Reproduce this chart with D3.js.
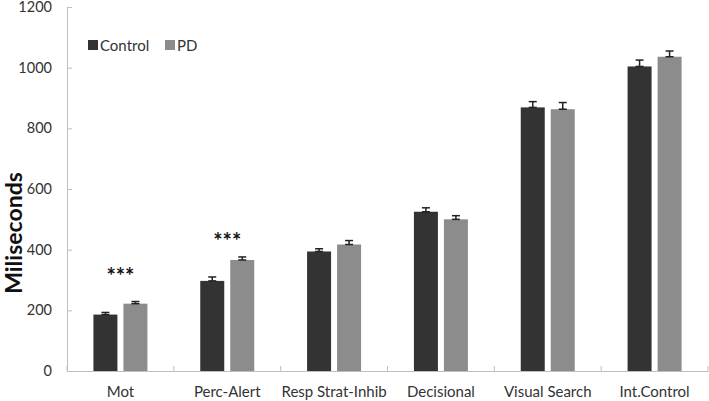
<!DOCTYPE html>
<html><head><meta charset="utf-8">
<script src="https://cdn.jsdelivr.net/npm/d3@7"></script>
<style>body{margin:0;background:#fff}svg{display:block}text{font-family:Lato,"Open Sans",sans-serif}</style>
</head><body>
<script>
const categories = ["Mot","Perc-Alert","Resp Strat-Inhib","Decisional","Visual Search","Int.Control"];
const seriesNames = ["Control","PD"];
const controlValues = [186, 297, 394, 525, 869, 1004];
const pdValues = [222, 366, 417, 500, 863, 1036];
const controlErr = [7, 13, 9, 13, 19, 21];
const pdErr = [7, 10, 13, 12, 22, 19];
const yTicks = [0,200,400,600,800,1000,1200];
const significance = ["***","***","","","",""];
const significanceLevel = [322, 440, 0, 0, 0, 0];
const colors = ["#333333","#8c8c8c"];

const W=709,H=401;
const svg=d3.select("body").append("svg").attr("width",W).attr("height",H);
const y=d3.scaleLinear().domain([0,1200]).range([371,7]);
const x=d3.scaleBand().domain(categories).range([67,708]).paddingInner(0).paddingOuter(0);
const bw=x.bandwidth();
const xs=d3.scaleBand().domain(seriesNames).range([(bw-54)/2,(bw+54)/2]).paddingInner(0.2).paddingOuter(0);

// y axis
const ya=svg.append("g").attr("transform","translate(67,0)").call(d3.axisLeft(y).tickValues(yTicks).tickFormat(d3.format("d")).tickSizeInner(-5).tickSizeOuter(0).tickPadding(15));
ya.select(".domain").attr("stroke","#bfbfbf");
ya.selectAll(".tick line").attr("stroke","#bfbfbf");
ya.selectAll("text").attr("font-size",14.5).attr("fill","#333");

// x axis
const xa=svg.append("g").attr("transform","translate(0,371)").call(d3.axisBottom(x).tickSize(0).tickPadding(15));
xa.select(".domain").attr("stroke","#bfbfbf");
xa.selectAll("text").attr("font-size",15).attr("fill","#333");
const bounds=categories.map(c=>x(c)).concat([x(categories[categories.length-1])+bw]);
svg.append("g").selectAll("line").data(bounds).join("line")
 .attr("x1",d=>d).attr("x2",d=>d).attr("y1",371).attr("y2",366).attr("stroke","#bfbfbf");

const data=[controlValues,pdValues], errs=[controlErr,pdErr];
seriesNames.forEach((s,si)=>{
  const g=svg.append("g");
  g.selectAll("rect").data(categories).join("rect")
   .attr("x",(c)=>x(c)+xs(s)).attr("width",xs.bandwidth())
   .attr("y",(c,i)=>y(data[si][i])).attr("height",(c,i)=>y(0)-y(data[si][i]))
   .attr("fill",colors[si]);
  const eg=svg.append("g").attr("stroke","#222").attr("stroke-width",1.5);
  categories.forEach((c,i)=>{
    const cx=x(c)+xs(s)+xs.bandwidth()/2;
    const top=y(data[si][i]+errs[si][i]), b=y(data[si][i]);
    eg.append("line").attr("x1",cx).attr("x2",cx).attr("y1",top).attr("y2",b);
    eg.append("line").attr("x1",cx-4).attr("x2",cx+4).attr("y1",top).attr("y2",top);
    eg.append("line").attr("x1",cx-4).attr("x2",cx+4).attr("y1",b).attr("y2",b);
  });
});

// significance
svg.append("g").selectAll("text").data(categories).join("text")
 .attr("x",c=>x(c)+bw/2)
 .attr("y",(c,i)=>y(significanceLevel[i])+11)
 .attr("text-anchor","middle").attr("font-size",22).attr("font-weight","bold").attr("fill","#111")
 .text((c,i)=>significance[i]);

// y label
svg.append("text").attr("transform","translate(22,233) rotate(-90)").attr("text-anchor","middle")
 .attr("font-size",23).attr("font-weight","bold").attr("fill","#111").text("Miliseconds");

// legend
const lg=svg.append("g");
const lx=[88,165];
seriesNames.forEach((s,i)=>{
  lg.append("rect").attr("x",lx[i]).attr("y",40).attr("width",10).attr("height",10).attr("fill",colors[i]);
  lg.append("text").attr("x",lx[i]+12).attr("y",50.5).attr("font-size",15).attr("fill","#333").text(s);
});
</script>
</body></html>
